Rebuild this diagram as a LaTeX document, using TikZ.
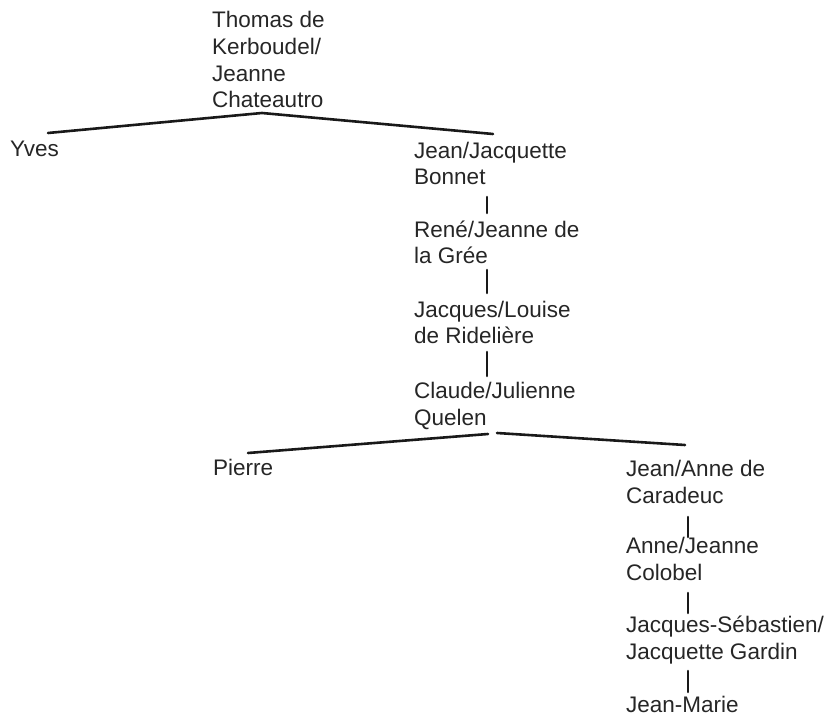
\documentclass[tikz,border=0pt]{standalone}
\usepackage{fontspec}
\setmainfont{Liberation Sans}
\begin{document}
\begin{tikzpicture}[x=1pt,y=-1pt,
  person/.style={anchor=base west, inner sep=0pt, align=left, text=black!85,
    font=\fontsize{22.5}{26.7}\selectfont},
  link/.style={line width=2.6pt, black!90, line cap=round}]
\useasboundingbox (0,0) rectangle (833,719);
% people (anchored at the baseline of the last line)
\node[person] (thomas) at (212,108) {Thomas de\\Kerboudel/\\Jeanne\\Chateautro};
\node[person] (yves) at (10,157) {Yves};
\node[person] (jean1) at (414,185) {Jean/Jacquette\\Bonnet};
\node[person] (rene) at (414,264) {René/Jeanne de\\la Grée};
\node[person] (jacques1) at (414,344) {Jacques/Louise\\de Ridelière};
\node[person] (claude) at (414,425) {Claude/Julienne\\Quelen};
\node[person] (pierre) at (213,475) {Pierre};
\node[person] (jean2) at (626,503) {Jean/Anne de\\Caradeuc};
\node[person] (anne) at (626,580) {Anne/Jeanne\\Colobel};
\node[person] (jacques2) at (626,659) {Jacques-Sébastien/\\Jacquette Gardin};
\node[person] (jeanmarie) at (626,712) {Jean-Marie};
% junction points
\coordinate (f1) at (262,113);
\coordinate (f1l) at (48,133);
\coordinate (f1r) at (493,134);
\coordinate (f2a) at (488,434);
\coordinate (f2b) at (497,433);
\coordinate (f2l) at (248,453);
\coordinate (f2r) at (685,445);
\coordinate (v1a) at (487,197); \coordinate (v1b) at (487,213);
\coordinate (v2a) at (487,270); \coordinate (v2b) at (487,293);
\coordinate (v3a) at (487,352); \coordinate (v3b) at (487,376);
\coordinate (v4a) at (688,517); \coordinate (v4b) at (688,537);
\coordinate (v5a) at (688,593); \coordinate (v5b) at (688,613);
\coordinate (v6a) at (688,671); \coordinate (v6b) at (688,692);
% connectors
\draw[link] (f1l) -- (f1) -- (f1r);
\draw[link] (v1a) -- (v1b);
\draw[link] (v2a) -- (v2b);
\draw[link] (v3a) -- (v3b);
\draw[link] (f2l) -- (f2a);
\draw[link] (f2b) -- (f2r);
\draw[link] (v4a) -- (v4b);
\draw[link] (v5a) -- (v5b);
\draw[link] (v6a) -- (v6b);
\end{tikzpicture}
\end{document}
